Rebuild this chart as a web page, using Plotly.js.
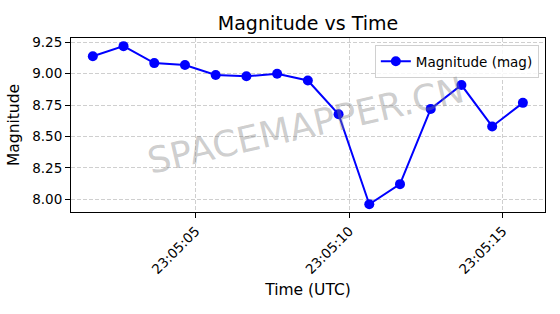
<!DOCTYPE html>
<html>
<head>
<meta charset="utf-8">
<script src="https://cdn.plot.ly/plotly-3.0.1.min.js"></script>
<style>html,body{margin:0;padding:0;background:#fff;}#chart{width:560px;height:314px;}</style>
</head>
<body>
<div id="chart"></div>
<script>
// Data
const times = [
  '2026-04-27 23:05:01.65', '2026-04-27 23:05:02.65', '2026-04-27 23:05:03.65',
  '2026-04-27 23:05:04.65', '2026-04-27 23:05:05.65', '2026-04-27 23:05:06.65',
  '2026-04-27 23:05:07.65', '2026-04-27 23:05:08.65', '2026-04-27 23:05:09.65',
  '2026-04-27 23:05:10.65', '2026-04-27 23:05:11.65', '2026-04-27 23:05:12.65',
  '2026-04-27 23:05:13.65', '2026-04-27 23:05:14.65', '2026-04-27 23:05:15.65'
];
const magnitudes = [9.14, 9.22, 9.085, 9.07, 8.99, 8.98, 9.00, 8.946, 8.677, 7.96, 8.12, 8.72, 8.91, 8.58, 8.768];
const xTickVals = ['2026-04-27 23:05:05', '2026-04-27 23:05:10', '2026-04-27 23:05:15'];
const xTickText = ['23:05:05', '23:05:10', '23:05:15'];
const yTickVals = [8.00, 8.25, 8.50, 8.75, 9.00, 9.25];
const yTickText = ['8.00', '8.25', '8.50', '8.75', '9.00', '9.25'];
const xRange = ['2026-04-27 23:05:00.94', '2026-04-27 23:05:16.37'];
const yRange = [7.898, 9.285];

const FONT = 'DejaVu Sans, sans-serif';

const trace = {
  x: times,
  y: magnitudes,
  type: 'scatter',
  mode: 'lines+markers',
  name: 'Magnitude (mag)',
  line: {color: '#0000ff', width: 2},
  marker: {color: '#0000ff', size: 10}
};

const axisCommon = {
  showline: true, mirror: true, linecolor: '#000', linewidth: 1,
  ticks: 'outside', ticklen: 5, tickwidth: 1, tickcolor: '#000',
  showgrid: true, gridcolor: '#cfcfcf', gridwidth: 1, griddash: '4px,2px',
  zeroline: false,
  tickfont: {family: FONT, size: 13.5, color: '#000'}
};

const layout = {
  width: 560, height: 314,
  margin: {l: 71, r: 15, t: 38, b: 102},
  paper_bgcolor: '#fff', plot_bgcolor: '#fff',
  font: {family: FONT, color: '#000'},
  title: {
    text: 'Magnitude vs Time',
    font: {family: FONT, size: 19, color: '#000'},
    x: 0.5, xref: 'paper', xanchor: 'center',
    y: 0.925, yref: 'container', yanchor: 'middle'
  },
  xaxis: Object.assign({}, axisCommon, {
    type: 'date',
    range: xRange,
    tickmode: 'array', tickvals: xTickVals, ticktext: xTickText,
    tickangle: -45,
    title: {text: 'Time (UTC)', font: {family: FONT, size: 15.5, color: '#000'}, standoff: 7}
  }),
  yaxis: Object.assign({}, axisCommon, {
    range: yRange,
    tickmode: 'array', tickvals: yTickVals, ticktext: yTickText,
    title: {text: 'Magnitude', font: {family: FONT, size: 15.5, color: '#000'}, standoff: 8}
  }),
  showlegend: true,
  legend: {
    x: 0.987, xanchor: 'right', y: 0.96, yanchor: 'top',
    bgcolor: 'rgba(255,255,255,0.8)', bordercolor: '#d0d0d0', borderwidth: 1,
    font: {family: FONT, size: 13.5, color: '#000'},
    itemwidth: 30, tracegroupgap: 0
  },
  annotations: [
    {
      text: 'SPACEMAPPER.CN', xref: 'paper', yref: 'paper', x: 0.495, y: 0.5,
      showarrow: false, textangle: -13,
      font: {family: FONT, size: 36, color: 'rgba(128,128,128,0.4)'}
    },
    {
      text: 'Generated: 2026-04-28 05:10:22 UTC', xref: 'container', yref: 'container',
      x: 16 / 560, xanchor: 'left', y: 1 - 304 / 314, yanchor: 'middle',
      showarrow: false,
      font: {family: FONT, size: 10.3, color: '#000'}
    }
  ]
};

Plotly.newPlot('chart', [trace], layout, {displayModeBar: false, staticPlot: true});
</script>
</body>
</html>
